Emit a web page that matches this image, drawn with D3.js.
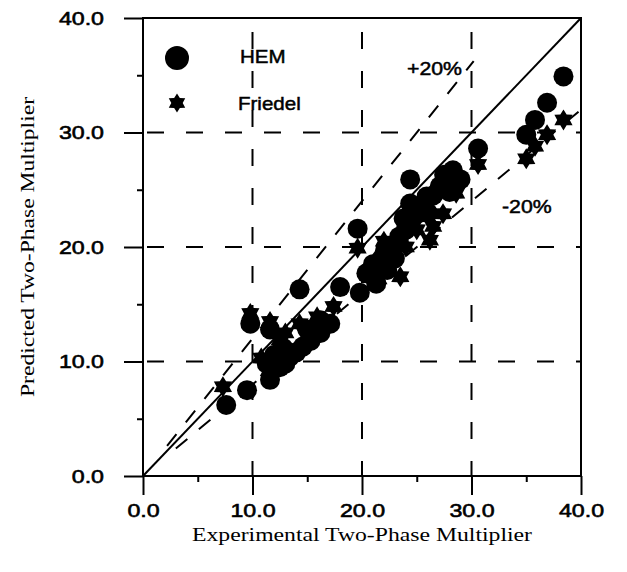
<!DOCTYPE html>
<html><head><meta charset="utf-8">
<script src="https://cdn.jsdelivr.net/npm/d3@7"></script>
<style>
html,body{margin:0;padding:0;background:#fff;}
svg{display:block;}
</style></head>
<body>
<svg id="chart" width="627" height="572"></svg>
<script>
// ---- data ----
const majorTicks = [0, 10, 20, 30, 40];
const minorTicks = [5, 15, 25, 35];
const hemExp  = [7.6, 9.5, 11.6, 11.3, 12.5, 13.4, 14.6, 16.2, 17.1, 16.2, 12.0, 13.0, 15.3, 9.8, 11.6, 14.3, 18.0, 19.6, 19.8, 20.4, 21.3, 22.3, 22.1, 23.4, 21.0, 24.4, 24.7, 25.9, 27.1, 28.3, 29.0, 24.4, 28.3, 30.6, 35.0, 35.8, 36.9, 38.4, 23.0, 26.0, 12.8, 14.0, 15.0, 21.8, 22.8, 24.0, 25.3, 26.5, 27.5, 21.5, 23.8, 28.0];
const hemPred = [6.2, 7.5, 8.4, 9.8, 9.5, 10.4, 11.3, 12.5, 13.3, 13.6, 10.6, 9.8, 11.8, 13.3, 12.8, 16.3, 16.5, 21.6, 16.0, 17.7, 16.8, 18.0, 19.7, 20.9, 18.5, 23.8, 22.6, 24.4, 25.3, 26.7, 25.9, 25.9, 26.2, 28.6, 29.8, 31.1, 32.6, 34.9, 19.0, 23.0, 11.2, 10.8, 12.8, 19.0, 20.0, 21.5, 23.0, 24.5, 26.3, 17.8, 22.5, 24.8];
const friedelExp  = [7.3, 9.8, 11.6, 10.8, 12.5, 14.3, 15.9, 17.4, 11.5, 13.5, 19.6, 20.6, 21.5, 23.5, 22.5, 25.0, 26.2, 26.5, 27.4, 28.6, 25.5, 27.5, 30.6, 35.0, 35.8, 36.9, 38.4, 13.0, 16.5, 24.0, 24.8, 22.0, 28.0];
const friedelPred = [7.8, 14.2, 13.5, 10.3, 11.9, 13.3, 13.9, 14.8, 9.2, 10.8, 19.9, 17.5, 17.2, 17.4, 19.0, 21.5, 20.6, 21.8, 22.9, 24.7, 23.5, 26.0, 27.2, 27.7, 28.8, 29.8, 31.1, 12.5, 13.5, 20.0, 23.0, 20.5, 26.5];
const seriesNames = ["HEM", "Friedel"];
const bandLabels = ["+20%", "-20%"];
const bandFactors = [1.2, 0.8];
const bandXRange = [[2.2, 30.2], [3.0, 40.0]];
const xTitle = "Experimental Two-Phase Multiplier";
const yTitle = "Predicted Two-Phase Multiplier";

// ---- layout ----
const svg = d3.select("#chart");
const x = d3.scaleLinear().domain([0, 40]).range([143, 581]);
const y = d3.scaleLinear().domain([0, 40]).range([476, 18]);
const fmt = d3.format(".1f");
const sans = "'Liberation Sans', Arial, sans-serif";
const serif = "'Liberation Serif', 'Times New Roman', serif";

function fitText(sel, target) {
  sel.each(function(){
    const w = this.getComputedTextLength();
    const t = typeof target === "function" ? target(w, this) : target;
    d3.select(this).attr("textLength", t).attr("lengthAdjust", "spacingAndGlyphs");
  });
}

// gridlines
const grid = svg.append("g").attr("stroke", "#000").attr("stroke-width", 2).attr("stroke-dasharray", "17,22");
grid.selectAll(".gv").data([10, 20, 30]).join("line")
  .attr("x1", d => x(d)).attr("x2", d => x(d))
  .attr("y1", y(40)).attr("y2", y(0)).attr("stroke-dashoffset", -14);
grid.selectAll(".gh").data([10, 20, 30]).join("line")
  .attr("y1", d => y(d)).attr("y2", d => y(d))
  .attr("x1", x(0)).attr("x2", x(40)).attr("stroke-dashoffset", -4);

// +/-20% lines
svg.append("g").selectAll("line").data(bandFactors).join("line")
  .attr("x1", (f, i) => x(bandXRange[i][0])).attr("y1", (f, i) => y(f * bandXRange[i][0]))
  .attr("x2", (f, i) => x(bandXRange[i][1])).attr("y2", (f, i) => y(f * bandXRange[i][1]))
  .attr("stroke", "#000").attr("stroke-width", 2).attr("stroke-dasharray", "15,15");

// 1:1 line
svg.append("line").attr("x1", x(0)).attr("y1", y(0)).attr("x2", x(40)).attr("y2", y(40))
  .attr("stroke", "#000").attr("stroke-width", 2);

// star path (six-pointed)
function hexStar(R) {
  const r = R * 0.6;
  const pts = d3.range(12).map(k => {
    const a = (-90 + k * 30) * Math.PI / 180;
    const rr = k % 2 === 0 ? R : r;
    return [rr * Math.cos(a), rr * Math.sin(a)];
  });
  return "M" + pts.map(p => p[0].toFixed(2) + "," + p[1].toFixed(2)).join("L") + "Z";
}

// points
svg.append("g").selectAll("path").data(d3.range(friedelExp.length)).join("path")
  .attr("d", hexStar(10.5))
  .attr("transform", i => `translate(${x(friedelExp[i])},${y(friedelPred[i])})`)
  .attr("fill", "#000");
svg.append("g").selectAll("circle").data(d3.range(hemExp.length)).join("circle")
  .attr("cx", i => x(hemExp[i])).attr("cy", i => y(hemPred[i])).attr("r", 10)
  .attr("fill", "#000");

// frame
svg.append("rect").attr("x", x(0)).attr("y", y(40)).attr("width", x(40) - x(0)).attr("height", y(0) - y(40))
  .attr("fill", "none").attr("stroke", "#000").attr("stroke-width", 2);

// axes
const xAxis = svg.append("g").attr("transform", `translate(0,${y(0)})`)
  .call(d3.axisBottom(x).tickValues(majorTicks).tickSize(19).tickPadding(9).tickFormat(fmt));
const xMinor = svg.append("g").attr("transform", `translate(0,${y(0)})`)
  .call(d3.axisBottom(x).tickValues(minorTicks).tickSize(6).tickFormat(""));
const yAxis = svg.append("g").attr("transform", `translate(${x(0)},0)`)
  .call(d3.axisLeft(y).tickValues(majorTicks).tickSize(19).tickPadding(20).tickFormat(fmt));
const yMinor = svg.append("g").attr("transform", `translate(${x(0)},0)`)
  .call(d3.axisLeft(y).tickValues(minorTicks).tickSize(6).tickFormat(""));
[xAxis, xMinor, yAxis, yMinor].forEach(g => {
  g.select(".domain").remove();
  g.selectAll(".tick line").attr("stroke", "#000").attr("stroke-width", 2);
  g.selectAll("text").attr("fill", "#000").attr("stroke", "#000").attr("stroke-width", 0.6)
    .attr("font-family", sans).attr("font-size", 19);
});
fitText(xAxis.selectAll("text"), w => w * 1.22);
fitText(yAxis.selectAll("text"), w => w * 1.22);

// legend
svg.append("circle").attr("cx", 177).attr("cy", 58).attr("r", 12).attr("fill", "#000");
svg.append("path").attr("d", hexStar(9.5)).attr("transform", "translate(177,103)").attr("fill", "#000");
const lt = svg.append("g").attr("font-family", sans).attr("font-size", 19).attr("fill", "#000")
  .attr("stroke", "#000").attr("stroke-width", 0.5);
lt.append("text").attr("x", 240).attr("y", 63).text(seriesNames[0]);
lt.append("text").attr("x", 238).attr("y", 110).text(seriesNames[1]);
fitText(lt.selectAll("text"), w => w * 1.08);

// band labels
const bt = svg.append("g").attr("font-family", sans).attr("font-size", 19).attr("fill", "#000")
  .attr("stroke", "#000").attr("stroke-width", 0.5);
bt.append("text").attr("x", 407).attr("y", 75).text(bandLabels[0]);
bt.append("text").attr("x", 502).attr("y", 213).text(bandLabels[1]);
fitText(bt.selectAll("text"), w => w * 1.12);

// axis titles
svg.append("text").attr("x", 362).attr("y", 541).attr("text-anchor", "middle")
  .attr("font-family", serif).attr("font-size", 19).attr("fill", "#000").text(xTitle)
  .call(s => fitText(s, 340));
svg.append("text").attr("transform", "translate(34,247) rotate(-90)").attr("text-anchor", "middle")
  .attr("font-family", serif).attr("font-size", 19).attr("fill", "#000").text(yTitle)
  .call(s => fitText(s, 300));
</script>
</body></html>
